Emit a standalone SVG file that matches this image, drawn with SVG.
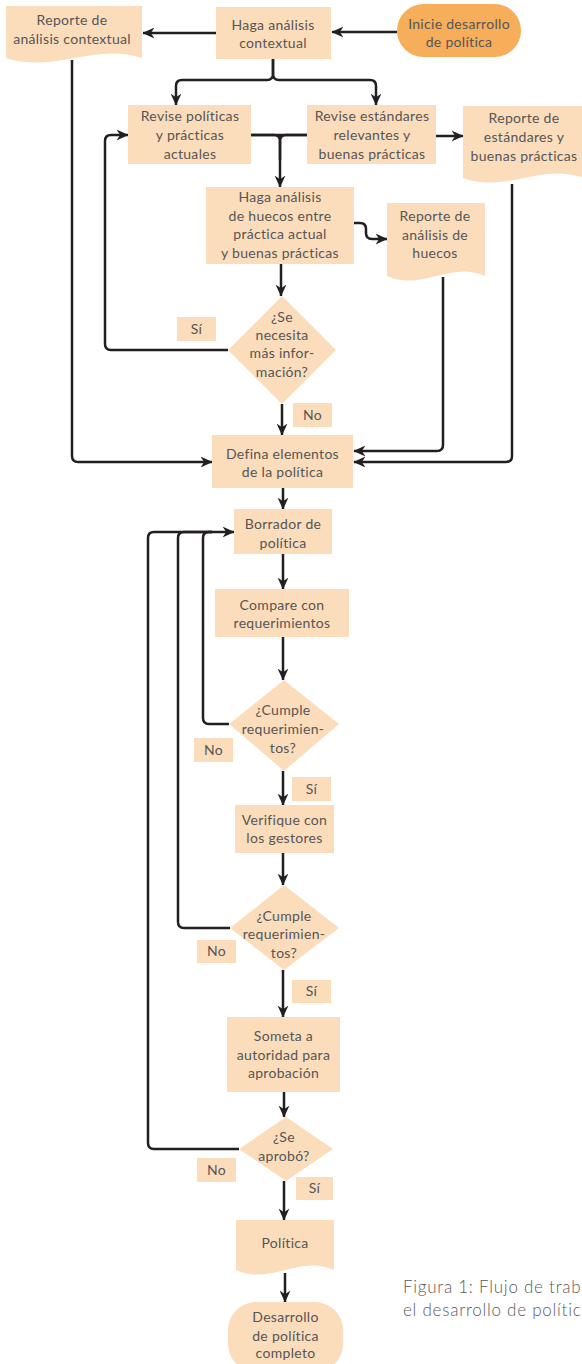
<svg xmlns="http://www.w3.org/2000/svg" width="582" height="1364" viewBox="0 0 582 1364">
<defs>
<marker id="ah" viewBox="0 0 10 10" refX="9.5" refY="5" markerWidth="12" markerHeight="12" markerUnits="userSpaceOnUse" orient="auto">
<path d="M0,0.5 L10,5 L0,9.5 L3,5 Z" fill="#231F20"/>
</marker>
<style>
.n{fill:#FCDDBB;stroke:none}
.o{fill:#F6AE5A;stroke:none}
.t{font-family:Lato,"Liberation Sans",sans-serif;font-size:14px;fill:#555557;text-anchor:middle;letter-spacing:0.3px}
.c{stroke:#231F20;stroke-width:2.5;fill:none;stroke-linejoin:round}
.a{marker-end:url(#ah)}
.cap{font-family:Lato,"Liberation Sans",sans-serif;font-size:17px;font-weight:300;fill:#5A5A5C;letter-spacing:0.75px}
</style>
</defs>
<rect width="582" height="1364" fill="#FFFFFF"/>

<g id="connectors">
<path class="c a" d="M397,32 H332"/>
<path class="c a" d="M216,33 H143"/>
<path class="c a" d="M273,59 V74 Q273,80 267,80 H182 Q176,80 176,86 V105"/>
<path class="c a" d="M273,59 V74 Q273,80 279,80 H370 Q376,80 376,86 V105"/>
<path class="c" d="M251,135 H307"/>
<path class="c a" d="M251,135 H274 Q280,135 280,141 V187"/>
<path class="c" d="M307,135 H286 Q280,135 280,141 V160"/>
<path class="c a" d="M436,136 H463"/>
<path class="c a" d="M354,223 H360 Q366,223 366,229 V233 Q366,239 372,239 H387"/>
<path class="c a" d="M281,264 V296"/>
<path class="c a" d="M228,350 H111 Q105,350 105,344 V141 Q105,135 111,135 H128"/>
<path class="c a" d="M282,404 V435"/>
<path class="c a" d="M72,60 V456 Q72,462 78,462 H212"/>
<path class="c a" d="M443,277 V445 Q443,451 437,451 H354"/>
<path class="c a" d="M512,184 V456 Q512,462 506,462 H354"/>
<path class="c a" d="M283,488 V509"/>
<path class="c a" d="M283,554 V589"/>
<path class="c a" d="M283,637 V680"/>
<path class="c a" d="M229,724 H209 Q203,724 203,718 V538 Q203,532 209,532 H234"/>
<path class="c" d="M230,928 H184 Q178,928 178,922 V538 Q178,532 184,532 H212"/>
<path class="c" d="M239,1149 H154 Q148,1149 148,1143 V538 Q148,532 154,532 H212"/>
<path class="c a" d="M283,771 V805"/>
<path class="c a" d="M283,853 V885"/>
<path class="c a" d="M283,970 V1017"/>
<path class="c a" d="M284,1092 V1117"/>
<path class="c a" d="M284,1181 V1220"/>
<path class="c a" d="M285,1273 V1302"/>
</g>

<g id="doc-contextual">
<path class="n" d="M6,6 H142 V58 C94,42 54,74 6,58 Z"/>
<text class="t" x="72" y="25">Reporte de</text>
<text class="t" x="72" y="44">análisis contextual</text>
</g>
<g id="haga-contextual">
<rect class="n" x="216" y="7" width="115" height="52"/>
<text class="t" x="273" y="30">Haga análisis</text>
<text class="t" x="273" y="48">contextual</text>
</g>
<g id="inicie">
<rect class="o" x="397" y="4" width="124" height="53" rx="26.5"/>
<text class="t" x="459" y="29">Inicie desarrollo</text>
<text class="t" x="459" y="47">de política</text>
</g>
<g id="revise-politicas">
<rect class="n" x="128" y="105" width="123" height="59"/>
<text class="t" x="190" y="121">Revise políticas</text>
<text class="t" x="190" y="140">y prácticas</text>
<text class="t" x="190" y="159">actuales</text>
</g>
<g id="revise-estandares">
<rect class="n" x="307" y="105" width="129" height="59"/>
<text class="t" x="372" y="121">Revise estándares</text>
<text class="t" x="372" y="140">relevantes y</text>
<text class="t" x="372" y="159">buenas prácticas</text>
</g>
<g id="doc-estandares">
<path class="n" d="M463,106 H584 V178 C542,162 505,194 463,178 Z"/>
<text class="t" x="524" y="123">Reporte de</text>
<text class="t" x="524" y="142">estándares y</text>
<text class="t" x="524" y="161">buenas prácticas</text>
</g>
<g id="haga-huecos">
<rect class="n" x="206" y="187" width="148" height="77"/>
<text class="t" x="280" y="202">Haga análisis</text>
<text class="t" x="280" y="221">de huecos entre</text>
<text class="t" x="280" y="239">práctica actual</text>
<text class="t" x="280" y="258">y buenas prácticas</text>
</g>
<g id="doc-huecos">
<path class="n" d="M387,203 H485 V276 C451,260 421,292 387,276 Z"/>
<text class="t" x="435" y="221">Reporte de</text>
<text class="t" x="435" y="240">análisis de</text>
<text class="t" x="435" y="258">huecos</text>
</g>
<g id="dec-info">
<polygon class="n" points="282,296 336,350 282,404 228,350"/>
<text class="t" x="282" y="322">¿Se</text>
<text class="t" x="282" y="340">necesita</text>
<text class="t" x="282" y="358">más infor-</text>
<text class="t" x="282" y="377">mación?</text>
</g>
<g id="lbl-si-1"><rect class="n" x="177" y="317" width="39" height="24"/><text class="t" x="196.5" y="334">Sí</text></g>
<g id="lbl-no-1"><rect class="n" x="293" y="403" width="39" height="24"/><text class="t" x="312.5" y="420">No</text></g>
<g id="defina">
<rect class="n" x="212" y="435" width="141" height="53"/>
<text class="t" x="282.5" y="459">Defina elementos</text>
<text class="t" x="282.5" y="477">de la política</text>
</g>
<g id="borrador">
<rect class="n" x="234" y="509" width="98" height="45"/>
<text class="t" x="283" y="529">Borrador de</text>
<text class="t" x="283" y="548">política</text>
</g>
<g id="compare">
<rect class="n" x="215" y="589" width="134" height="48"/>
<text class="t" x="282" y="610">Compare con</text>
<text class="t" x="282" y="628">requerimientos</text>
</g>
<g id="dec-cumple-1">
<polygon class="n" points="284,680 339,724 284,771 229,724"/>
<text class="t" x="283" y="715">¿Cumple</text>
<text class="t" x="283" y="734">requerimien-</text>
<text class="t" x="283" y="753">tos?</text>
</g>
<g id="lbl-no-2"><rect class="n" x="194" y="738" width="39" height="24"/><text class="t" x="213.5" y="755">No</text></g>
<g id="lbl-si-2"><rect class="n" x="292" y="777" width="39" height="24"/><text class="t" x="311.5" y="794">Sí</text></g>
<g id="verifique">
<rect class="n" x="235" y="805" width="99" height="48"/>
<text class="t" x="284.5" y="825">Verifique con</text>
<text class="t" x="284.5" y="843">los gestores</text>
</g>
<g id="dec-cumple-2">
<polygon class="n" points="284,885 339,928 284,970 230,928"/>
<text class="t" x="284" y="921">¿Cumple</text>
<text class="t" x="284" y="939">requerimien-</text>
<text class="t" x="284" y="958">tos?</text>
</g>
<g id="lbl-no-3"><rect class="n" x="197" y="940" width="39" height="23"/><text class="t" x="216.5" y="956">No</text></g>
<g id="lbl-si-3"><rect class="n" x="292" y="980" width="39" height="23"/><text class="t" x="311.5" y="996">Sí</text></g>
<g id="someta">
<rect class="n" x="227" y="1017" width="113" height="75"/>
<text class="t" x="283.5" y="1041">Someta a</text>
<text class="t" x="283.5" y="1060">autoridad para</text>
<text class="t" x="283.5" y="1078">aprobación</text>
</g>
<g id="dec-aprobo">
<polygon class="n" points="286,1117 333,1149 286,1181 239,1149"/>
<text class="t" x="284" y="1142">¿Se</text>
<text class="t" x="284" y="1161">aprobó?</text>
</g>
<g id="lbl-no-4"><rect class="n" x="197" y="1158" width="39" height="24"/><text class="t" x="216.5" y="1175">No</text></g>
<g id="lbl-si-4"><rect class="n" x="296" y="1177" width="37" height="23"/><text class="t" x="314.5" y="1193">Sí</text></g>
<g id="doc-politica">
<path class="n" d="M236,1220 H334 V1270 C300,1254 270,1286 236,1270 Z"/>
<text class="t" x="285" y="1248">Política</text>
</g>
<g id="fin">
<rect class="n" x="228" y="1302" width="115" height="70" rx="28"/>
<text class="t" x="285.5" y="1322">Desarrollo</text>
<text class="t" x="285.5" y="1341">de política</text>
<text class="t" x="285.5" y="1358">completo</text>
</g>
<g id="caption">
<text class="cap" x="403" y="1293">Figura 1: Flujo de trabajo para</text>
<text class="cap" x="403" y="1316">el desarrollo de políticas</text>
</g>
</svg>
